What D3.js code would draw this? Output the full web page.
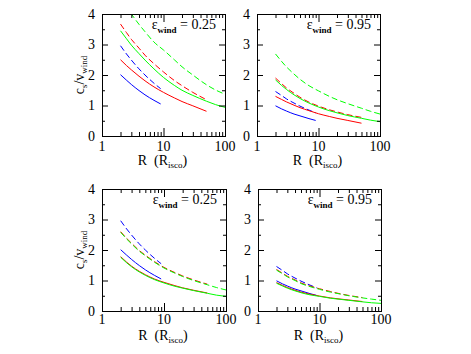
<!DOCTYPE html>
<html>
<head>
<meta charset="utf-8">
<script src="https://cdn.jsdelivr.net/npm/d3@7"></script>
<style>
  body { margin: 0; background: #fff; }
  svg { display: block; }
  text { font-family: "Liberation Serif", "Times New Roman", serif; fill: #000; }
</style>
</head>
<body>
<div id="graph"></div>
<script>
"use strict"

// radii (in R_isco) at which each family of curves was read
const R_BLUE = [2, 2.5, 3, 4, 5, 7, 9]
const R_RED = [2, 2.5, 3, 4, 5, 7, 10, 15, 20, 30, 50]
const R_GREEN = [2, 2.5, 3, 4, 5, 7, 10, 15, 20, 30, 50, 70, 100]

// c_s / v_wind, top row
const topBlueSolid25 = [2.01, 1.83, 1.69, 1.49, 1.35, 1.17, 1.05]
const topBlueDash25 = [2.96, 2.69, 2.49, 2.20, 2.00, 1.73, 1.55]
const topRedSolid25 = [2.50, 2.31, 2.17, 1.96, 1.81, 1.61, 1.43, 1.25, 1.13, 0.99, 0.81]
const topRedDash25 = [3.67, 3.39, 3.17, 2.88, 2.65, 2.37, 2.10, 1.82, 1.65, 1.43, 1.19]
const topGreenSolid25 = [3.45, 3.19, 2.98, 2.70, 2.49, 2.20, 1.92, 1.66, 1.50, 1.33, 1.14, 1.03, 0.94]
const topGreenDash25 = [4.52, 4.22, 4.00, 3.66, 3.42, 3.08, 2.82, 2.50, 2.27, 2.00, 1.68, 1.51, 1.37]

const topBlueSolid95 = [0.99, 0.89, 0.82, 0.72, 0.66, 0.57, 0.51]
const topBlueDash95 = [1.46, 1.33, 1.22, 1.08, 0.98, 0.85, 0.76]
const topRedSolid95 = [1.30, 1.20, 1.12, 1.01, 0.93, 0.83, 0.73, 0.64, 0.58, 0.51, 0.42]
const topRedDash95 = [1.90, 1.72, 1.58, 1.40, 1.27, 1.11, 0.98, 0.86, 0.79, 0.70, 0.61]
const topGreenSolid95 = [1.84, 1.66, 1.53, 1.35, 1.23, 1.08, 0.95, 0.83, 0.76, 0.67, 0.58, 0.52, 0.47]
const topGreenDash95 = [2.69, 2.45, 2.27, 2.03, 1.86, 1.65, 1.48, 1.30, 1.19, 1.06, 0.91, 0.81, 0.72]

// c_s / v_wind, bottom row
const botRedSolid25 = [1.78, 1.60, 1.47, 1.30, 1.19, 1.05, 0.94, 0.83, 0.76, 0.68, 0.59]
const botRedDash25 = [2.60, 2.38, 2.22, 1.98, 1.83, 1.62, 1.43, 1.26, 1.15, 1.02, 0.88]
const botGreenSolid25 = [1.76, 1.58, 1.45, 1.28, 1.17, 1.03, 0.92, 0.81, 0.75, 0.67, 0.58, 0.52, 0.48]
const botGreenDash25 = [2.58, 2.36, 2.20, 1.96, 1.81, 1.60, 1.41, 1.24, 1.13, 1.00, 0.86, 0.77, 0.69]

const botRedSolid95 = [0.93, 0.84, 0.77, 0.68, 0.62, 0.55, 0.49, 0.43, 0.40, 0.36, 0.31]
const botRedDash95 = [1.36, 1.24, 1.14, 1.02, 0.92, 0.82, 0.73, 0.64, 0.58, 0.51, 0.44]
const botGreenSolid95 = [0.91, 0.82, 0.75, 0.66, 0.60, 0.53, 0.48, 0.42, 0.39, 0.35, 0.30, 0.27, 0.25]
const botGreenDash95 = [1.34, 1.22, 1.12, 1.00, 0.90, 0.80, 0.71, 0.62, 0.57, 0.50, 0.43, 0.39, 0.35]

const X_TICKS = [1, 10, 100]
const Y_TICKS = [0, 1, 2, 3, 4]

const BLUE = "#0000ff", RED = "#ff0000", GREEN = "#00ff00"
const DASH = "6,3"

function s(r, v, color, dashed) { return {r: r, v: v, color: color, dashed: dashed} }

const panels = [
    {eps: "0.25", x0: 102, x1: 225, y0: 14, y1: 136, tickGap: 15, labGap: 29, yLabel: true,
     series: [s(R_BLUE, topBlueSolid25, BLUE, false), s(R_BLUE, topBlueDash25, BLUE, true),
              s(R_RED, topRedSolid25, RED, false), s(R_RED, topRedDash25, RED, true),
              s(R_GREEN, topGreenSolid25, GREEN, false), s(R_GREEN, topGreenDash25, GREEN, true)]},
    {eps: "0.95", x0: 257, x1: 380, y0: 14, y1: 136, tickGap: 15, labGap: 29, yLabel: false,
     series: [s(R_BLUE, topBlueSolid95, BLUE, false), s(R_BLUE, topBlueDash95, BLUE, true),
              s(R_RED, topRedSolid95, RED, false), s(R_RED, topRedDash95, RED, true),
              s(R_GREEN, topGreenSolid95, GREEN, false), s(R_GREEN, topGreenDash95, GREEN, true)]},
    {eps: "0.25", x0: 102, x1: 226, y0: 189, y1: 311, tickGap: 13, labGap: 29, yLabel: true,
     series: [s(R_BLUE, topBlueSolid25, BLUE, false), s(R_BLUE, topBlueDash25, BLUE, true),
              s(R_RED, botRedSolid25, RED, false), s(R_RED, botRedDash25, RED, true),
              s(R_GREEN, botGreenSolid25, GREEN, false), s(R_GREEN, botGreenDash25, GREEN, true)]},
    {eps: "0.95", x0: 258, x1: 381, y0: 189, y1: 311, tickGap: 13, labGap: 29, yLabel: false,
     series: [s(R_BLUE, topBlueSolid95, BLUE, false), s(R_BLUE, topBlueDash95, BLUE, true),
              s(R_RED, botRedSolid95, RED, false), s(R_RED, botRedDash95, RED, true),
              s(R_GREEN, botGreenSolid95, GREEN, false), s(R_GREEN, botGreenDash95, GREEN, true)]}
]

main()

function main() {
    let svg = d3.select("#graph").append("svg")
        .attr("width", 471).attr("height", 354)
    svg.append("rect").attr("width", 471).attr("height", 354).attr("fill", "#fff")

    panels.forEach(function(p, i) { drawPanel(svg, p, i) })
}

function drawPanel(svg, p, i) {
    let x = d3.scaleLog().domain([1, 100]).range([p.x0, p.x1])
    let y = d3.scaleLinear().domain([0, 4]).range([p.y1, p.y0])
    let g = svg.append("g")

    let xMinor = []
    ;[1, 10].forEach(function(d) { for (let k = 2; k <= 9; k++) xMinor.push(d * k) })
    let yMinor = d3.range(0.5, 4, 1)

    g.append("clipPath").attr("id", "clip" + i)
        .append("rect")
        .attr("x", p.x0).attr("y", p.y0)
        .attr("width", p.x1 - p.x0).attr("height", p.y1 - p.y0)

    // curves
    let line = d3.line()
        .x(function(d) { return x(d[0]) })
        .y(function(d) { return y(d[1]) })
        .curve(d3.curveMonotoneX)

    g.append("g").attr("clip-path", "url(#clip" + i + ")")
        .selectAll("path")
        .data(p.series)
        .enter().append("path")
        .attr("fill", "none")
        .attr("stroke", function(d) { return d.color })
        .attr("stroke-width", 1)
        .attr("stroke-dasharray", function(d) { return d.dashed ? DASH : null })
        .attr("d", function(d) { return line(d.r.map(function(r, k) { return [r, d.v[k]] })) })

    // ticks on all four sides, pointing inward
    function ticks(axis, tr, vals, len) {
        let a = g.append("g").attr("transform", tr)
            .call(axis.tickValues(vals).tickSize(-len).tickFormat(""))
        a.select(".domain").remove()
        a.selectAll("line").attr("stroke", "#000").attr("stroke-width", 1)
    }
    ticks(d3.axisBottom(x), "translate(0," + p.y1 + ")", X_TICKS, 8)
    ticks(d3.axisBottom(x), "translate(0," + p.y1 + ")", xMinor, 4)
    ticks(d3.axisTop(x), "translate(0," + p.y0 + ")", X_TICKS, 8)
    ticks(d3.axisTop(x), "translate(0," + p.y0 + ")", xMinor, 4)
    ticks(d3.axisLeft(y), "translate(" + p.x0 + ",0)", Y_TICKS, 6)
    ticks(d3.axisLeft(y), "translate(" + p.x0 + ",0)", yMinor, 3)
    ticks(d3.axisRight(y), "translate(" + p.x1 + ",0)", Y_TICKS, 6)
    ticks(d3.axisRight(y), "translate(" + p.x1 + ",0)", yMinor, 3)

    g.append("rect")
        .attr("x", p.x0 + 0.5).attr("y", p.y0 + 0.5)
        .attr("width", p.x1 - p.x0).attr("height", p.y1 - p.y0)
        .attr("fill", "none").attr("stroke", "#000").attr("stroke-width", 1)

    // tick labels
    g.selectAll(".xl").data(X_TICKS).enter().append("text")
        .attr("x", function(d) { return x(d) })
        .attr("y", p.y1 + p.tickGap)
        .attr("text-anchor", "middle")
        .style("font-size", "14px")
        .text(function(d) { return d })

    g.selectAll(".yl").data(Y_TICKS).enter().append("text")
        .attr("x", p.x0 - 7)
        .attr("y", function(d) { return y(d) + 4.5 })
        .attr("text-anchor", "end")
        .style("font-size", "14px")
        .text(function(d) { return d })

    // x label
    let xl = g.append("text")
        .attr("x", (p.x0 + p.x1) / 2 - 1)
        .attr("y", p.y1 + p.labGap)
        .attr("text-anchor", "middle")
        .style("font-size", "14px")
        .style("white-space", "pre")
    xl.append("tspan").text("R  (R")
    xl.append("tspan").attr("dy", 3).style("font-size", "9px").text("isco")
    xl.append("tspan").attr("dy", -3).text(")")

    // y label
    if (p.yLabel) {
        let yl = g.append("text")
            .attr("transform", "translate(84," + (p.y0 + p.y1) / 2 + ") rotate(-90)")
            .attr("text-anchor", "middle")
            .style("font-size", "14px")
        yl.append("tspan").text("c")
        yl.append("tspan").attr("dy", 3).style("font-size", "9px").text("s")
        yl.append("tspan").attr("dy", -3).text("/v")
        yl.append("tspan").attr("dy", 3).style("font-size", "9px").text("wind")
    }

    // epsilon annotation
    let et = g.append("text")
        .attr("x", p.x1 - 9)
        .attr("y", p.y0 + 15)
        .attr("text-anchor", "end")
        .style("font-size", "14px")
        .style("white-space", "pre")
    et.append("tspan").text("\u03b5")
    et.append("tspan").attr("dy", 4).style("font-size", "9px").style("font-weight", "bold").text("wind")
    et.append("tspan").attr("dy", -4).text(" = " + p.eps)
}
</script>
</body>
</html>
